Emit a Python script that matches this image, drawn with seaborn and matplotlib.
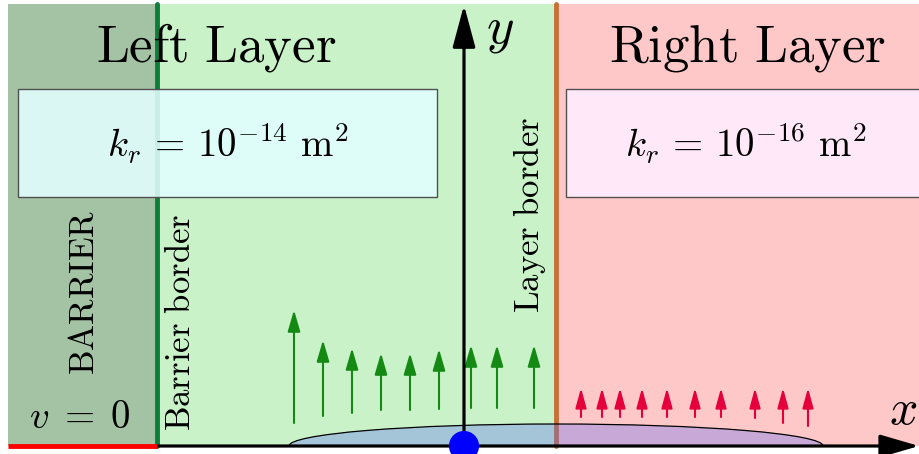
import matplotlib.pyplot as plt
import seaborn as sns
from matplotlib.patches import Ellipse, Rectangle

# diagram laid out in pixel units (y grows downwards)
region_edges = [8, 157, 556, 920]
region_colors = ['#a4c3a4', '#c9f2c9', '#ffc8c8']
region_top, region_bottom = 4, 446

# flow arrows in the left layer
green_x = [294, 323, 352, 381, 410, 439, 471, 497, 534]
green_base = [423, 416, 413, 410, 410, 409, 408, 408, 408]
green_tip = [310, 340, 348, 353, 353, 349, 345, 345, 345]

# flow arrows in the right layer
red_x = [581, 602, 620, 642, 667, 695, 721, 755, 783, 808]
red_base = [417, 417, 417, 417, 417, 417, 417, 418, 423, 426]
red_tip = [388, 388, 388, 388, 388, 388, 388, 388, 388, 388]

barrier_x = 157
layer_x = 556
origin = (464, 446)

titles = ['Left Layer', 'Right Layer']
title_x = [216, 747]
perm_labels = [r'$k_r\,=\,10^{-14}\ \mathrm{m}^2$', r'$k_r\,=\,10^{-16}\ \mathrm{m}^2$']
box_left = [18, 566]
box_right = [437, 926]
box_colors = [(0.89, 1.0, 1.0, 0.88), (1.0, 0.93, 1.0, 0.88)]

sns.set_style('white')
plt.rcParams['mathtext.fontset'] = 'cm'
plt.rcParams['text.color'] = 'black'

fig = plt.figure(figsize=(9.2, 4.54), dpi=100)
ax = fig.add_axes([0, 0, 1, 1])

# background layers
for x0, x1, c in zip(region_edges[:-1], region_edges[1:], region_colors):
    ax.fill_between([x0, x1], region_top, region_bottom, color=c, lw=0, zorder=0)

# permeability boxes
for x0, x1, c, lab in zip(box_left, box_right, box_colors, perm_labels):
    ax.add_patch(Rectangle((x0, 89), x1 - x0, 108, facecolor=c,
                           edgecolor='#505050', lw=1, zorder=3))
    ax.text(min((x0 + x1) / 2, 747), 157, lab, fontsize=28, ha='center',
            va='baseline', zorder=4)

# borders
ax.plot([barrier_x, barrier_x], [region_top, region_bottom], color='#0e7d3c', lw=3.5, zorder=2)
ax.plot([layer_x, layer_x], [region_top, region_bottom], color='#c87137', lw=3.5, zorder=2)

# wetted zone
ell = Ellipse((layer_x, region_bottom), 534, 44, facecolor=(0.35, 0.41, 0.96, 0.33),
              edgecolor='black', lw=0.9, zorder=5)
ax.add_patch(ell)
ell.set_clip_path(Rectangle((region_edges[0], region_top), 912, region_bottom - region_top,
                            transform=ax.transData))

for x, y0, y1 in zip(green_x, green_base, green_tip):
    ax.annotate('', xy=(x, y1), xytext=(x, y0), zorder=6,
                arrowprops=dict(arrowstyle='-|>,head_length=1.3,head_width=0.38',
                                mutation_scale=10, color='#148a14', lw=1.5,
                                shrinkA=0, shrinkB=0))
for x, y0, y1 in zip(red_x, red_base, red_tip):
    ax.annotate('', xy=(x, y1), xytext=(x, y0), zorder=6,
                arrowprops=dict(arrowstyle='-|>,head_length=1.2,head_width=0.33',
                                mutation_scale=10, color='#e5003d', lw=1.5,
                                shrinkA=0, shrinkB=0))

# axes arrows
ax.plot([region_edges[0], barrier_x], [region_bottom, region_bottom], color='red', lw=3.5,
        solid_capstyle='butt', zorder=8)
ax.annotate('', xy=(919, origin[1]), xytext=(barrier_x, origin[1]), zorder=7,
            arrowprops=dict(arrowstyle='-|>,head_length=2.4,head_width=0.7',
                            mutation_scale=10, color='black', lw=2.3, shrinkA=0, shrinkB=0))
ax.annotate('', xy=(origin[0], 5), xytext=(origin[0], origin[1] + 1), zorder=7,
            arrowprops=dict(arrowstyle='-|>,head_length=2.6,head_width=0.7',
                            mutation_scale=10, color='black', lw=2.3, shrinkA=0, shrinkB=0))
sns.scatterplot(x=[origin[0]], y=[origin[1]], s=470, color='blue', edgecolor='none',
                ax=ax, zorder=9, legend=False)

# labels
for t, x in zip(titles, title_x):
    ax.text(x, 62, r'$\mathrm{' + t.replace(' ', r'\ ') + '}$', fontsize=38,
            ha='center', va='baseline', zorder=4)
ax.text(500, 29, '$y$', fontsize=38, ha='center', va='center', zorder=4)
ax.text(903, 410, '$x$', fontsize=36, ha='center', va='center', zorder=4)
ax.text(80, 428, r'$v\;=\;0$', fontsize=28, ha='center', va='baseline', zorder=4)
ax.text(84, 292, r'$\mathrm{BARRIER}$', fontsize=25, rotation=90,
        ha='center', va='center', zorder=4)
ax.text(180, 322, r'$\mathrm{Barrier\ border}$', fontsize=25, rotation=90,
        ha='center', va='center', zorder=4)
ax.text(530, 215, r'$\mathrm{Layer\ border}$', fontsize=25, rotation=90,
        ha='center', va='center', zorder=4)

ax.set_xlim(0, 920)
ax.set_ylim(454, 0)
ax.set_xlabel('')
ax.set_ylabel('')
ax.axis('off')

fig.savefig('out.png', dpi=100)
